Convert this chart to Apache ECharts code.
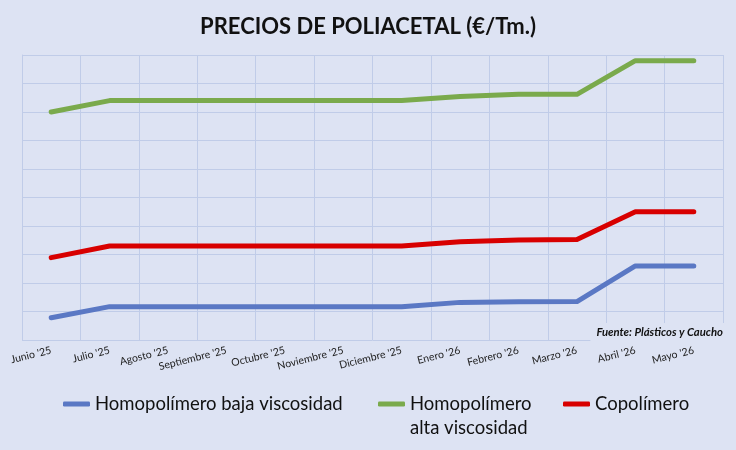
<!DOCTYPE html>
<html>
<head>
<meta charset="utf-8">
<script src="https://cdn.jsdelivr.net/npm/echarts@6/dist/echarts.min.js"></script>
<style>
  html, body { margin: 0; padding: 0; background: #dde3f3; }
  #chart_box { width: 736px; height: 450px; }
</style>
</head>
<body>
<div id="chart_box"></div>
<script>
// meses
var months = ["Junio '25", "Julio '25", "Agosto '25", "Septiembre '25", "Octubre '25", "Noviembre '25",
              "Diciembre '25", "Enero '26", "Febrero '26", "Marzo '26", "Abril '26", "Mayo '26"];

// precios €/Tm (estimados del gráfico)
var bajaVisc = [1578, 1617, 1617, 1617, 1617, 1617, 1617, 1632, 1634, 1635, 1760, 1760];
var altaVisc = [2300, 2340, 2340, 2340, 2340, 2340, 2340, 2354, 2362, 2362, 2480, 2480];
var copolimero = [1789, 1830, 1830, 1830, 1830, 1830, 1830, 1845, 1851, 1853, 1950, 1950];

var seriesNames = ['Homopolímero baja viscosidad', 'Homopolímero alta viscosidad', 'Copolímero'];

var yMin = 1500, yMax = 2500, yStep = 100;

window.onload = function () {
    var myChart = echarts.init(document.getElementById('chart_box'));
    var font = 'Lato, "Open Sans", sans-serif';
    var gridColor = '#c0cce8';
    var legendText = { fontSize: 18.5, color: '#111', lineHeight: 24, fontFamily: font };

    var option = {
        backgroundColor: '#dde3f3',
        textStyle: { fontFamily: font },
        title: {
            text: 'PRECIOS DE POLIACETAL (€/Tm.)',
            left: 'center',
            top: 11,
            textStyle: { fontSize: 22, fontWeight: 'bold', color: '#111', fontFamily: font }
        },
        legend: [
            {
                data: [seriesNames[0]],
                left: 63, top: 392, padding: 0,
                icon: 'roundRect', itemWidth: 27, itemHeight: 5,
                textStyle: legendText
            },
            {
                data: [seriesNames[1]],
                left: 378, top: 368, padding: 0,
                icon: 'roundRect', itemWidth: 27, itemHeight: 5,
                // linea vacía arriba para que "Homopolímero" quede a la altura del icono
                formatter: function () { return '\nHomopolímero\nalta viscosidad'; },
                textStyle: legendText
            },
            {
                data: [seriesNames[2]],
                left: 563, top: 392, padding: 0,
                icon: 'roundRect', itemWidth: 27, itemHeight: 5,
                textStyle: legendText
            }
        ],
        grid: { left: 22, right: 13, top: 55, bottom: 110 },
        xAxis: {
            type: 'category',
            boundaryGap: true,
            data: months,
            axisLine: { show: false },
            axisTick: { show: false },
            splitLine: { show: true, interval: 0, lineStyle: { color: gridColor, width: 1 } },
            axisLabel: { interval: 0, rotate: 14, margin: 10, fontSize: 10.5, color: '#222', fontFamily: font }
        },
        yAxis: {
            type: 'value',
            min: yMin, max: yMax, interval: yStep,
            axisLabel: { show: false },
            axisLine: { show: true, lineStyle: { color: gridColor } },
            axisTick: { show: false },
            splitLine: { lineStyle: { color: gridColor, width: 1 } }
        },
        graphic: [
            {
                type: 'text',
                right: 11, top: 323,
                z: 100,
                style: {
                    text: 'Fuente: Plásticos y Caucho',
                    font: 'italic bold 11.3px ' + font,
                    fill: '#111',
                    backgroundColor: '#dde3f3',
                    padding: [4, 2, 5, 6]
                }
            }
        ],
        series: [
            {
                name: seriesNames[0], type: 'line', data: bajaVisc,
                symbol: 'none', color: '#5a78c4',
                lineStyle: { width: 5, cap: 'round', join: 'round' }
            },
            {
                name: seriesNames[1], type: 'line', data: altaVisc,
                symbol: 'none', color: '#7aaa4c',
                lineStyle: { width: 5, cap: 'round', join: 'round' }
            },
            {
                name: seriesNames[2], type: 'line', data: copolimero,
                symbol: 'none', color: '#d80000',
                lineStyle: { width: 5, cap: 'round', join: 'round' }
            }
        ]
    };
    myChart.setOption(option);
};
</script>
</body>
</html>
